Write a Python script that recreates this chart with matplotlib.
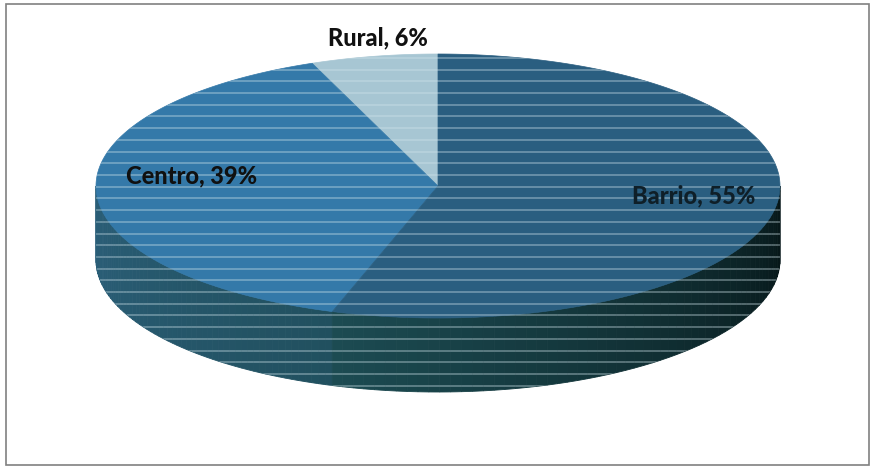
import matplotlib.pyplot as plt
import numpy as np
from matplotlib.patches import Polygon, Rectangle
import matplotlib.colors as mcolors

labels = ['Barrio', 'Centro', 'Rural']
values = [55, 39, 6]
top_colors = ['#2a5e80', '#3479a9', '#a7c6d3']
# side colours at the start and end of each slice's front face
side_colors = [('#1c4b52', '#061618'), ('#2b5f79', '#21505f'), ('#6f96a4', '#6f96a4')]
label_pos = [(694, 196), (192, 176), (378, 38)]

# ellipse geometry in pixel units
cx, cy = 438, 186
rx, ry = 342, 132
depth = 74


def arc(a0, a1, n=200, dy=0):
    t = np.radians(np.linspace(a0, a1, n))
    return np.column_stack([cx + rx * np.cos(t), cy - ry * np.sin(t) + dy])


fig = plt.figure(figsize=(8.75, 4.69), dpi=100)
ax = fig.add_axes([0, 0, 1, 1])
ax.set_xlim(0, 875)
ax.set_ylim(469, 0)
ax.axis('off')

# slices go counter-clockwise; Rural starts at 12 o'clock, then Centro, then Barrio
order = [2, 1, 0]
start = 90.0
spans = {}
for i in order:
    span = values[i] / sum(values) * 360
    spans[i] = (start, start + span)
    start += span

patches = []
# front walls
for i in order:
    a0, a1 = spans[i]
    lo, hi = max(a0, 180), min(a1, 360)
    if hi <= lo:
        continue
    steps = np.linspace(lo, hi, 60)
    c0, c1 = mcolors.to_rgb(side_colors[i][0]), mcolors.to_rgb(side_colors[i][1])
    for k in range(len(steps) - 1):
        f = k / (len(steps) - 2)
        col = tuple(np.array(c0) * (1 - f) + np.array(c1) * f)
        top = arc(steps[k], steps[k + 1], 6)
        bot = arc(steps[k + 1], steps[k], 6, dy=depth)
        p = Polygon(np.vstack([top, bot]), closed=True, facecolor=col,
                    edgecolor=col, linewidth=0.6, zorder=2)
        ax.add_patch(p)
        patches.append(p)

# top faces
for i in order:
    a0, a1 = spans[i]
    pts = np.vstack([[cx, cy], arc(a0, a1)])
    p = Polygon(pts, closed=True, facecolor=top_colors[i], edgecolor=top_colors[i],
                linewidth=0.5, zorder=3)
    ax.add_patch(p)
    patches.append(p)

# light horizontal banding over the pie
ys = np.arange(cy - ry + 4, cy + ry + depth, 11.7)
for p in patches:
    for y in ys:
        ln, = ax.plot([cx - rx - 5, cx + rx + 5], [y, y], color='#cfe3ea',
                      alpha=0.4, linewidth=1.3, zorder=4)
        ln.set_clip_path(p)

label_colors = ['#0f1f28', '#101010', '#111111']
for i in range(len(labels)):
    ax.text(label_pos[i][0], label_pos[i][1], f'{labels[i]}, {values[i]}%',
            ha='center', va='center', fontsize=17, fontweight='black',
            family=['Lato', 'DejaVu Sans'], color=label_colors[i], zorder=5)

# outer frame
ax.add_patch(Rectangle((6, 4), 863, 461, fill=False, edgecolor='#808080',
                       linewidth=1.2, zorder=6))

fig.savefig('out.png', dpi=100)
